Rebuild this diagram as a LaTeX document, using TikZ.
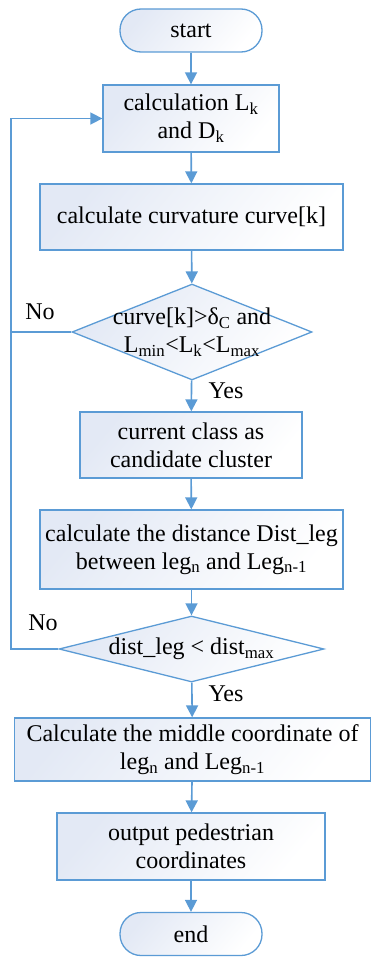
\documentclass[tikz,border=0pt]{standalone}
\usepackage{fontspec}
\setmainfont{Liberation Serif}
\usetikzlibrary{arrows.meta,shapes.geometric}
\definecolor{edge}{HTML}{5B9BD5}
\definecolor{shadeA}{HTML}{E3E9F5}
\tikzset{
  base/.style={draw=edge, line width=1.3pt, top color=shadeA, bottom color=white, shading angle=50, inner sep=0pt, align=center, font=\fontsize{24}{28}\selectfont},
  procbox/.style={base, rectangle},
  termbox/.style={base, rectangle, rounded corners=21pt, minimum width=142pt, minimum height=43pt},
  decbox/.style={base, diamond, shape aspect=2.5},
  txt/.style={inner sep=0pt, align=center, font=\fontsize{24}{28}\selectfont},
  flow/.style={draw=edge, line width=1.6pt, -{Triangle[width=12pt,length=12pt]}},
  plainline/.style={draw=edge, line width=1.6pt},
}
\begin{document}
\begin{tikzpicture}[x=1pt,y=-1pt]
\useasboundingbox (0,0) rectangle (372,958);
\node[termbox] (start) at (191,30.5) {start};
\node[procbox, minimum width=176pt, minimum height=67pt] (b1) at (191,118.5) {calculation L\textsubscript{k}\\and D\textsubscript{k}};
\node[procbox, minimum width=303pt, minimum height=66pt] (b2) at (191.5,217) {calculate curvature curve[k]};
\node[decbox, minimum width=240pt, minimum height=96pt] (d1) at (192,332) {};
\node[txt] (d1t) at (192,332) {curve[k]>δ\textsubscript{C} and\\L\textsubscript{min}<L\textsubscript{k}<L\textsubscript{max}};
\node[procbox, minimum width=222pt, minimum height=66pt] (b3) at (191,445) {current class as\\candidate cluster};
\node[procbox, minimum width=303pt, minimum height=79pt] (b4) at (191.5,549.5) {calculate the distance Dist\_leg\\between leg\textsubscript{n} and Leg\textsubscript{n-1}};
\node[decbox, minimum width=265pt, minimum height=66pt] (d2) at (191.5,649) {};
\node[txt] (d2t) at (191.5,649) {dist\_leg < dist\textsubscript{max}};
\node[procbox, minimum width=356pt, minimum height=63pt] (b5) at (192.5,749.5) {Calculate the middle coordinate of\\leg\textsubscript{n} and Leg\textsubscript{n-1}};
\node[procbox, minimum width=268pt, minimum height=67pt] (b6) at (191,846.5) {output pedestrian\\coordinates};
\node[termbox] (end) at (191,934) {end};
\node[txt] (no1) at (40,312) {No};
\node[txt] (no2) at (43,623) {No};
\node[txt] (yes1) at (226,391) {Yes};
\node[txt] (yes2) at (226,694) {Yes};
\coordinate (la) at (11,332);
\coordinate (lb) at (11,118.5);
\coordinate (lc) at (11,649);
\draw[flow] (start) -- (b1);
\draw[flow] (b1) -- (b2);
\draw[flow] (b2) -- (d1);
\draw[flow] (d1) -- (b3);
\draw[flow] (b3) -- (b4);
\draw[flow] (b4) -- (d2);
\draw[flow] (d2) -- (b5);
\draw[flow] (b5) -- (b6);
\draw[flow] (b6) -- (end);
\draw[flow] (d1.west) -- (la) -- (lb) -- (b1.west);
\draw[plainline] (d2.west) -- (lc) -- (la);
\end{tikzpicture}
\end{document}
